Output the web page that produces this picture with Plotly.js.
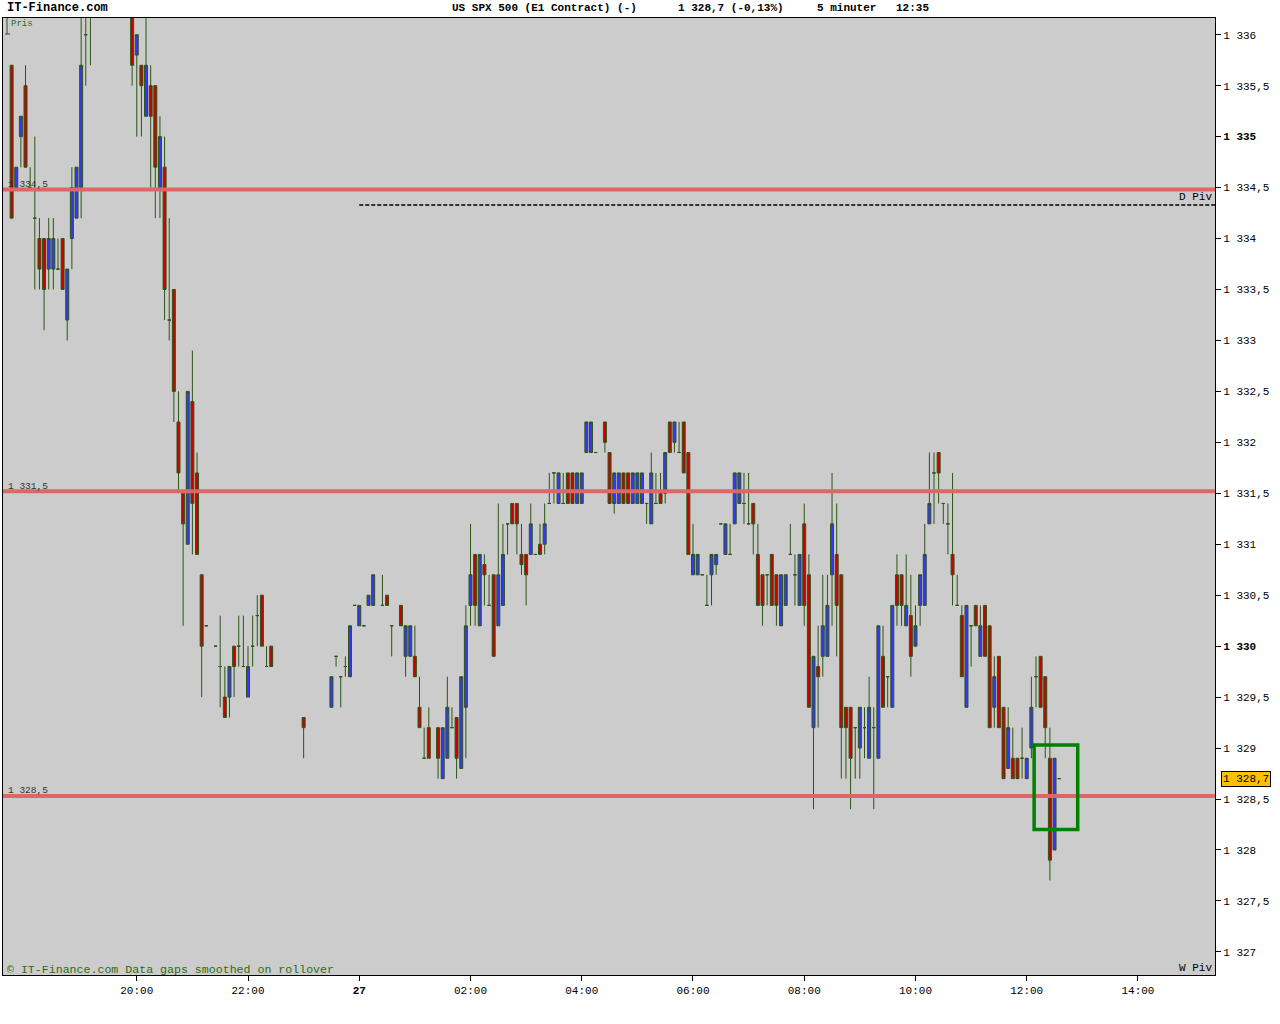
<!DOCTYPE html>
<html>
<head>
<meta charset="utf-8">
<script src="https://cdn.plot.ly/plotly-3.0.1.min.js"></script>
<style>
  html, body { margin: 0; padding: 0; background: #ffffff; }
  #chart { width: 1280px; height: 1024px; }
</style>
</head>
<body>
<div id="chart"></div>
<script>
// ---- Data (5-minute bars, US SPX 500 E1 contract) ----
const barTimes = [
  "17:45","17:50","17:55","18:00","18:05","18:10","18:15","18:20","18:25","18:30",
  "18:35","18:40","18:45","18:50","18:55","19:00","19:05","19:10","19:55","20:00",
  "20:05","20:10","20:15","20:20","20:25","20:30","20:35","20:40","20:45","20:50",
  "20:55","21:00","21:05","21:10","21:15","21:25","21:30","21:35","21:40","21:45",
  "21:50","21:55","22:00","22:05","22:10","22:15","22:20","22:25","23:00","23:30",
  "23:35","23:40","23:45","23:50","23:55","00:00","00:05","00:10","00:15","00:25",
  "00:30","00:35","00:45","00:50","00:55","01:00","01:05","01:10","01:15","01:25",
  "01:30","01:35","01:40","01:45","01:50","01:55","02:00","02:05","02:10","02:15",
  "02:20","02:25","02:30","02:35","02:40","02:45","02:50","02:55","03:00","03:05",
  "03:10","03:15","03:20","03:25","03:30","03:35","03:40","03:45","03:50","03:55",
  "04:00","04:05","04:10","04:15","04:25","04:30","04:35","04:40","04:45","04:50",
  "04:55","05:00","05:05","05:10","05:15","05:20","05:25","05:30","05:35","05:40",
  "05:45","05:50","05:55","06:00","06:05","06:10","06:15","06:20","06:25","06:30",
  "06:35","06:40","06:45","06:50","06:55","07:00","07:05","07:10","07:15","07:20",
  "07:25","07:30","07:35","07:40","07:45","07:50","07:55","08:00","08:05","08:10",
  "08:15","08:20","08:25","08:30","08:35","08:40","08:45","08:50","08:55","09:00",
  "09:05","09:10","09:15","09:20","09:25","09:30","09:35","09:40","09:45","09:50",
  "09:55","10:00","10:05","10:10","10:15","10:20","10:25","10:30","10:35","10:40",
  "10:45","10:50","10:55","11:00","11:05","11:10","11:15","11:20","11:25","11:30",
  "11:35","11:40","11:45","11:50","11:55","12:00","12:05","12:10","12:15","12:20",
  "12:25","12:30","12:35"
];
const openPx = [
  1335.7,1334.5,1335.0,1335.5,1334.5,1334.2,1334.0,1334.0,1333.7,1333.7,
  1333.7,1334.0,1333.2,1334.0,1334.2,1334.5,1336.0,1336.5,1336.4,1335.8,
  1335.7,1335.2,1335.5,1335.5,1334.5,1334.7,1333.2,1333.5,1332.2,1331.5,
  1331.0,1332.4,1331.7,1330.7,1330.2,1330.0,1329.8,1329.5,1329.5,1330.0,
  1330.0,1329.8,1329.5,1330.0,1330.3,1330.5,1329.8,1330.0,1329.3,1329.4,
  1329.9,1329.7,1329.8,1329.7,1330.4,1330.2,1330.2,1330.4,1330.4,1330.4,
  1330.5,1330.2,1330.4,1329.9,1329.9,1329.9,1329.4,1328.9,1329.2,1329.2,
  1328.7,1328.9,1329.2,1329.3,1328.8,1329.4,1330.4,1330.9,1330.2,1330.8,
  1330.4,1330.7,1330.2,1330.4,1331.2,1331.4,1331.4,1330.9,1330.9,1330.9,
  1330.9,1331.0,1331.0,1331.4,1331.7,1331.4,1331.4,1331.7,1331.7,1331.4,
  1331.4,1331.9,1331.9,1331.9,1332.2,1331.9,1331.4,1331.4,1331.7,1331.7,
  1331.4,1331.4,1331.4,1331.4,1331.2,1331.4,1331.5,1331.5,1332.2,1332.0,
  1331.9,1332.2,1331.9,1330.7,1330.7,1330.7,1330.4,1330.7,1330.8,1331.2,
  1330.9,1330.9,1331.2,1331.4,1331.4,1331.2,1331.4,1330.9,1330.7,1330.7,
  1330.9,1330.7,1330.2,1330.4,1330.9,1330.7,1330.4,1331.2,1330.7,1329.2,
  1329.8,1329.9,1329.9,1330.7,1330.9,1330.7,1329.4,1329.4,1329.2,1329.0,
  1329.2,1328.9,1329.2,1328.9,1329.9,1329.7,1329.4,1330.7,1330.7,1330.2,
  1330.3,1330.0,1330.4,1330.4,1331.2,1331.7,1331.9,1331.4,1331.2,1330.9,
  1330.4,1330.3,1329.4,1330.2,1330.4,1329.9,1330.4,1330.2,1329.4,1329.9,
  1329.4,1328.8,1328.9,1328.9,1328.9,1328.7,1329.0,1329.7,1329.9,1329.7,
  1328.9,1328.0,1328.7
];
const highPx = [
  1335.7,1334.7,1335.2,1335.7,1334.7,1335.0,1334.2,1334.0,1334.2,1334.2,
  1334.0,1334.0,1333.7,1334.7,1334.7,1336.3,1336.3,1336.8,1336.6,1336.0,
  1335.7,1336.3,1335.7,1335.5,1335.2,1335.0,1334.2,1333.5,1332.5,1331.5,
  1332.5,1332.9,1331.9,1330.7,1330.2,1330.0,1330.3,1329.8,1329.8,1330.0,
  1330.3,1330.3,1330.0,1330.3,1330.5,1330.5,1330.0,1330.0,1329.3,1329.7,
  1329.9,1329.7,1329.9,1330.2,1330.4,1330.4,1330.2,1330.5,1330.7,1330.7,
  1330.5,1330.2,1330.4,1330.2,1330.2,1330.2,1329.7,1329.2,1329.4,1329.2,
  1329.2,1329.7,1329.4,1329.3,1329.7,1330.4,1331.2,1330.9,1330.9,1330.9,
  1330.7,1330.7,1331.4,1331.2,1331.2,1331.4,1331.4,1331.2,1330.9,1331.4,
  1330.9,1331.2,1331.4,1331.7,1331.7,1331.7,1331.7,1331.7,1331.7,1331.7,
  1331.7,1332.2,1332.2,1331.9,1332.2,1331.9,1331.7,1331.7,1331.7,1331.7,
  1331.7,1331.7,1331.7,1331.4,1331.9,1331.7,1331.7,1331.9,1332.2,1332.2,
  1332.2,1332.2,1331.9,1331.2,1330.9,1330.7,1330.7,1330.9,1330.9,1331.2,
  1331.2,1331.2,1331.7,1331.7,1331.7,1331.7,1331.4,1331.2,1330.7,1330.7,
  1330.9,1330.7,1330.7,1330.7,1331.2,1330.9,1330.9,1331.4,1330.9,1329.9,
  1330.2,1330.7,1330.7,1331.7,1331.4,1330.7,1329.4,1329.4,1329.2,1329.4,
  1329.4,1329.7,1329.4,1330.2,1330.2,1329.7,1330.4,1330.9,1330.7,1330.9,
  1330.7,1330.4,1330.7,1331.2,1331.9,1331.9,1331.9,1331.4,1331.4,1331.7,
  1330.7,1330.4,1330.4,1330.2,1330.4,1330.4,1330.4,1330.2,1329.9,1329.9,
  1329.4,1329.4,1329.2,1328.9,1329.2,1328.9,1329.7,1329.9,1329.9,1329.7,
  1329.2,1328.9,1328.7
];
const lowPx = [
  1334.2,1334.5,1334.7,1334.7,1334.5,1333.5,1333.5,1333.1,1333.5,1333.5,
  1333.7,1333.5,1333.0,1333.7,1334.2,1334.2,1335.5,1335.7,1335.5,1335.0,
  1335.0,1335.2,1334.5,1334.2,1334.2,1333.2,1333.0,1332.2,1331.5,1330.2,
  1331.0,1330.9,1330.9,1329.5,1330.2,1330.0,1329.4,1329.3,1329.3,1329.5,
  1329.8,1329.8,1329.5,1329.8,1330.0,1330.0,1329.8,1329.8,1328.9,1329.4,
  1329.8,1329.4,1329.7,1329.7,1330.4,1330.2,1330.2,1330.4,1330.4,1330.4,
  1330.4,1329.9,1330.2,1329.7,1329.9,1329.7,1329.2,1328.9,1328.9,1328.7,
  1328.7,1328.9,1329.2,1328.7,1328.8,1328.9,1330.2,1330.2,1330.2,1330.4,
  1330.4,1329.9,1330.2,1330.4,1330.9,1331.2,1330.9,1330.7,1330.4,1330.9,
  1330.9,1330.9,1330.9,1331.4,1331.4,1331.4,1331.4,1331.4,1331.4,1331.4,
  1331.4,1331.9,1331.9,1331.9,1331.9,1331.4,1331.3,1331.4,1331.4,1331.4,
  1331.4,1331.4,1331.4,1331.2,1331.2,1331.4,1331.4,1331.4,1331.9,1331.9,
  1331.9,1331.7,1330.9,1330.7,1330.7,1330.7,1330.4,1330.4,1330.7,1331.2,
  1330.9,1330.9,1331.2,1331.4,1331.2,1331.2,1330.9,1330.4,1330.2,1330.4,
  1330.4,1330.2,1330.2,1330.4,1330.9,1330.4,1330.4,1330.2,1329.4,1328.4,
  1329.2,1329.7,1329.9,1330.2,1329.9,1328.7,1328.7,1328.4,1328.7,1328.7,
  1328.9,1328.9,1328.4,1328.9,1329.4,1329.4,1329.4,1330.2,1330.2,1330.2,
  1329.7,1330.0,1330.2,1330.4,1331.2,1331.2,1331.4,1331.2,1330.9,1330.4,
  1330.4,1329.7,1329.4,1329.8,1330.2,1329.9,1329.9,1329.2,1329.2,1329.2,
  1328.7,1328.8,1328.7,1328.7,1328.7,1328.7,1328.9,1329.4,1329.4,1328.9,
  1327.7,1328.0,1328.7
];
const closePx = [
  1334.2,1334.7,1335.2,1334.7,1334.5,1334.2,1333.7,1333.5,1334.0,1334.0,
  1333.7,1333.5,1333.7,1334.5,1334.7,1335.7,1336.0,1336.4,1335.7,1336.0,
  1335.5,1335.7,1335.2,1334.7,1335.0,1333.5,1333.2,1332.5,1331.7,1331.2,
  1332.5,1331.4,1330.9,1330.0,1330.2,1330.0,1329.8,1329.3,1329.8,1329.8,
  1330.0,1329.8,1329.8,1330.0,1330.3,1330.0,1329.8,1329.8,1329.2,1329.7,
  1329.9,1329.7,1329.8,1330.2,1330.4,1330.4,1330.2,1330.5,1330.7,1330.4,
  1330.4,1330.2,1330.2,1330.2,1330.2,1329.7,1329.2,1328.9,1328.9,1328.9,
  1329.2,1329.4,1329.2,1328.9,1329.7,1330.2,1330.7,1330.4,1330.9,1330.7,
  1330.4,1329.9,1330.7,1330.9,1331.2,1331.2,1331.2,1330.8,1330.7,1331.2,
  1330.9,1330.9,1331.2,1331.4,1331.7,1331.7,1331.4,1331.4,1331.4,1331.7,
  1331.7,1332.2,1332.2,1331.9,1332.0,1331.4,1331.7,1331.7,1331.4,1331.4,
  1331.7,1331.7,1331.7,1331.4,1331.7,1331.4,1331.4,1331.9,1331.9,1332.2,
  1331.9,1331.7,1330.9,1330.9,1330.9,1330.7,1330.4,1330.9,1330.9,1331.2,
  1331.2,1330.9,1331.7,1331.7,1331.4,1331.2,1331.2,1330.4,1330.4,1330.7,
  1330.4,1330.4,1330.7,1330.7,1330.9,1330.7,1330.9,1330.4,1329.4,1329.9,
  1329.7,1330.2,1330.4,1331.2,1330.4,1329.2,1329.2,1328.9,1329.2,1329.4,
  1329.2,1329.4,1329.2,1330.2,1329.4,1329.7,1330.4,1330.4,1330.4,1330.4,
  1329.9,1330.2,1330.7,1330.9,1331.4,1331.7,1331.7,1331.4,1331.2,1330.7,
  1330.4,1329.7,1330.4,1330.2,1330.2,1330.2,1329.9,1329.2,1329.7,1329.2,
  1328.7,1329.2,1328.7,1328.7,1328.9,1328.9,1329.4,1329.7,1329.4,1329.2,
  1327.9,1328.9,1328.7
];

// reference levels
const pivotLevels = [1334.48, 1331.52, 1328.53];
const pivotLabels = ["1 334,5", "1 331,5", "1 328,5"];
const dailyPivot = 1334.33;
const lastPrice = 1328.7;
const lastPriceLabel = "1 328,7";

// axis ticks
const yTickVals = [1327,1327.5,1328,1328.5,1329,1329.5,1330,1330.5,1331,1331.5,1332,1332.5,1333,1333.5,1334,1334.5,1335,1335.5,1336];
const yTickText = ["1 327","1 327,5","1 328","1 328,5","1 329","1 329,5","<b>1 330</b>","1 330,5","1 331","1 331,5","1 332","1 332,5","1 333","1 333,5","1 334","1 334,5","<b>1 335</b>","1 335,5","1 336"];
const xTickVals = ["2011-04-26 20:00","2011-04-26 22:00","2011-04-27 00:00","2011-04-27 02:00","2011-04-27 04:00","2011-04-27 06:00","2011-04-27 08:00","2011-04-27 10:00","2011-04-27 12:00","2011-04-27 14:00"];
const xTickText = ["20:00","22:00","<b>27</b>","02:00","04:00","06:00","08:00","10:00","12:00","14:00"];

// build full timestamps (day rolls over at midnight)
const xDates = [];
let day = 26, prev = null;
for (const t of barTimes) {
  if (prev !== null && t < prev) day = 27;
  xDates.push("2011-04-" + day + " " + t);
  prev = t;
}

const MONO = "Liberation Mono, Courier New, monospace";
const OUTLINE = "#2d5516";

const trace = {
  type: "candlestick",
  x: xDates, open: openPx, high: highPx, low: lowPx, close: closePx,
  increasing: { fillcolor: "#3535ff", line: { color: OUTLINE, width: 1 } },
  decreasing: { fillcolor: "#cc0000", line: { color: OUTLINE, width: 1 } },
  whiskerwidth: 0,
  hoverinfo: "skip"
};

// pixel -> paper helpers for decorative text placement
const L = 3, R = 1215, T = 18, B = 975;
const px = v => (v - L) / (R - L);
const py = v => (B - v) / (B - T);

const shapes = [];
pivotLevels.forEach(v => shapes.push({
  type: "line", xref: "paper", yref: "y", x0: 0, x1: 1, y0: v, y1: v,
  line: { color: "#dd6666", width: 4 }, layer: "above"
}));
shapes.push({
  type: "line", xref: "x", yref: "y",
  x0: "2011-04-27 00:00", x1: "2011-04-27 15:23:06", y0: dailyPivot, y1: dailyPivot,
  line: { color: "#000000", width: 1.5, dash: "4px,2px" }
});
shapes.push({
  type: "rect", xref: "x", yref: "y",
  x0: "2011-04-27 12:08", x1: "2011-04-27 12:55", y0: 1328.2, y1: 1329.03,
  line: { color: "#008000", width: 3.5 }, fillcolor: "rgba(0,0,0,0)", layer: "above"
});
// small "Pris" marker icon
shapes.push({ type: "line", xref: "paper", yref: "paper", x0: px(7), x1: px(7), y0: py(18), y1: py(34), line: { color: OUTLINE, width: 1 } });
shapes.push({ type: "line", xref: "paper", yref: "paper", x0: px(5), x1: px(10), y0: py(34), y1: py(34), line: { color: OUTLINE, width: 1 } });

const annotations = [
  { text: "<b>IT-Finance.com</b>", xref: "paper", yref: "paper", x: px(5), y: py(8), xanchor: "left", yanchor: "middle", showarrow: false, font: { family: MONO, size: 12, color: "#000" } },
  { text: "<b>US SPX 500 (E1 Contract) (-)</b>", xref: "paper", yref: "paper", x: px(450), y: py(8), xanchor: "left", yanchor: "middle", showarrow: false, font: { family: MONO, size: 11, color: "#000" } },
  { text: "<b>1 328,7 (-0,13%)</b>", xref: "paper", yref: "paper", x: px(676), y: py(8), xanchor: "left", yanchor: "middle", showarrow: false, font: { family: MONO, size: 11, color: "#000" } },
  { text: "<b>5 minuter</b>", xref: "paper", yref: "paper", x: px(815), y: py(8), xanchor: "left", yanchor: "middle", showarrow: false, font: { family: MONO, size: 11, color: "#000" } },
  { text: "<b>12:35</b>", xref: "paper", yref: "paper", x: px(894), y: py(8), xanchor: "left", yanchor: "middle", showarrow: false, font: { family: MONO, size: 11, color: "#000" } },
  { text: "Pris", xref: "paper", yref: "paper", x: px(9), y: py(24), xanchor: "left", yanchor: "middle", showarrow: false, font: { family: MONO, size: 9, color: "#2f6b12" } },
  { text: "© IT-Finance.com Data gaps smoothed on rollover", xref: "paper", yref: "paper", x: px(5), y: py(969), xanchor: "left", yanchor: "middle", showarrow: false, font: { family: MONO, size: 11.6, color: "#2f6b12" } },
  { text: "D Piv", xref: "paper", yref: "paper", x: px(1214), y: py(197), xanchor: "right", yanchor: "middle", showarrow: false, font: { family: MONO, size: 11, color: "#000" } },
  { text: "W Piv", xref: "paper", yref: "paper", x: px(1214), y: py(968), xanchor: "right", yanchor: "middle", showarrow: false, font: { family: MONO, size: 11, color: "#000" } },
  { text: lastPriceLabel, xref: "paper", yref: "y", x: px(1246), y: lastPrice, xanchor: "center", yanchor: "middle", showarrow: false,
    bgcolor: "#ffc000", bordercolor: "#000", borderwidth: 1, borderpad: 1, font: { family: MONO, size: 11, color: "#000" } }
];
pivotLevels.forEach((v, i) => annotations.push({
  text: pivotLabels[i], xref: "paper", yref: "y", x: px(6), y: v, xanchor: "left", yanchor: "middle", yshift: 5,
  showarrow: false, font: { family: MONO, size: 9.5, color: "#333333" }
}));

const layout = {
  width: 1280, height: 1024,
  margin: { l: L, r: 1280 - R, t: T, b: 1024 - B, pad: 0 },
  paper_bgcolor: "#ffffff", plot_bgcolor: "#cccccc",
  showlegend: false, hovermode: false, boxgap: 0.08,
  xaxis: {
    type: "date", range: ["2011-04-26 17:35:42", "2011-04-27 15:23:06"],
    rangeslider: { visible: false },
    showgrid: false, zeroline: false,
    showline: true, mirror: true, linecolor: "#000", linewidth: 1,
    ticks: "outside", ticklen: 5, tickcolor: "#000", tickwidth: 1,
    tickmode: "array", tickvals: xTickVals, ticktext: xTickText,
    tickfont: { family: MONO, size: 11, color: "#000" }
  },
  yaxis: {
    side: "right", range: [1326.773, 1336.164],
    showgrid: false, zeroline: false,
    showline: true, mirror: true, linecolor: "#000", linewidth: 1,
    ticks: "outside", ticklen: 5, tickcolor: "#000", tickwidth: 1,
    tickmode: "array", tickvals: yTickVals, ticktext: yTickText,
    tickfont: { family: MONO, size: 11, color: "#000" }
  },
  shapes: shapes,
  annotations: annotations
};

Plotly.newPlot("chart", [trace], layout, { displayModeBar: false, staticPlot: true });
</script>
</body>
</html>
